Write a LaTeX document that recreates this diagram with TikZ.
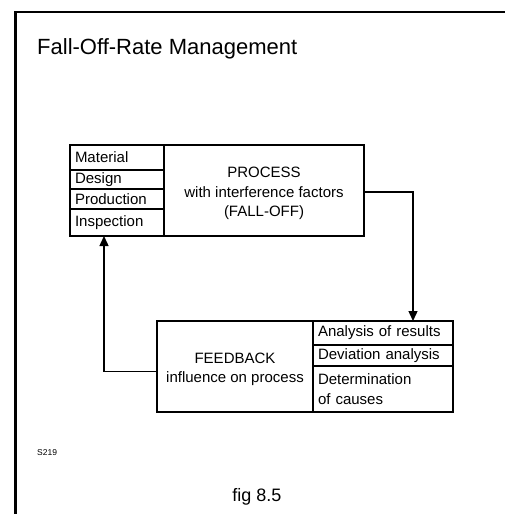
\documentclass[tikz,border=0pt]{standalone}
\usepackage{fontspec}
\setmainfont{Liberation Sans}
\usetikzlibrary{arrows.meta}
\tikzset{
  cell/.style={draw, line width=1.4pt, rectangle, inner sep=0pt, outer sep=0pt,
    anchor=north west, font=\fontsize{15}{19.5}\selectfont},
  lcell/.style={cell, align=left, inner xsep=5pt},
  ccell/.style={cell, align=center},
  conn/.style={line width=1.4pt, -{Triangle[width=9pt,length=10pt]}},
  frameline/.style={line width=2.5pt, line join=miter},
}
\begin{document}
\begin{tikzpicture}[x=1pt,y=-1pt]
\useasboundingbox (0,0) rectangle (505,514);
\draw[frameline] (15.5,514) -- (15.5,12) -- (505,12);
\node[anchor=base west, inner sep=0pt, font=\fontsize{22}{26}\selectfont] (title) at (37,54) {Fall-Off-Rate Management};
% process block
\node[lcell, minimum width=94pt, minimum height=25pt, text width=84pt] (mat) at (70,145) {Material};
\node[lcell, minimum width=94pt, minimum height=19pt, text width=84pt] (des) at (70,170) {Design};
\node[lcell, minimum width=94pt, minimum height=20pt, text width=84pt] (prod) at (70,189) {Production};
\node[lcell, minimum width=94pt, minimum height=27pt, text width=84pt] (insp) at (70,209) {Inspection};
\node[cell, minimum width=200pt, minimum height=91pt] (proc) at (164,145) {};
\node[align=center, inner sep=0pt, font=\fontsize{15}{19.5}\selectfont] (proctext) at ([yshift=-3pt]proc.center) {PROCESS\\with interference factors\\(FALL-OFF)};
% feedback block
\node[cell, minimum width=156pt, minimum height=91pt] (fb) at (157,321) {};
\node[align=center, inner sep=0pt, font=\fontsize{15}{19.5}\selectfont] (fbtext) at ([yshift=-3pt]fb.center) {FEEDBACK\\influence on process};
\node[lcell, minimum width=140pt, minimum height=24pt, text width=130pt] (ana) at (313,321) {Analysis of results};
\node[lcell, minimum width=140pt, minimum height=21pt, text width=130pt] (dev) at (313,345) {Deviation analysis};
\node[lcell, minimum width=140pt, minimum height=46pt, text width=130pt] (det) at (313,366) {Determination\\of causes};
% connectors
\draw[conn] ([yshift=-1.5pt]proc.east) -| ([xshift=30pt]ana.north);
\draw[conn] ([yshift=-5pt]fb.west) -| ([xshift=-13pt]insp.south);
% labels
\node[anchor=base west, inner sep=0pt, font=\fontsize{8.5}{10}\selectfont] (code) at (37,455) {S219};
\node[anchor=base, inner sep=0pt, font=\fontsize{18}{22}\selectfont] (fig) at (257,501) {fig 8.5};
\end{tikzpicture}
\end{document}
